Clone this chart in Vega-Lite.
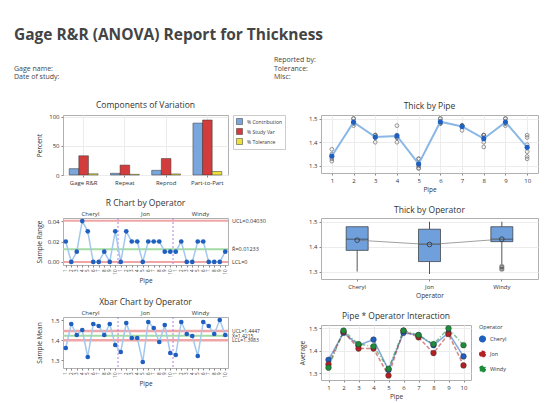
{
  "$schema": "https://vega.github.io/schema/vega-lite/v6.json",
  "background": "white",
  "padding": {"left": 14, "top": 27, "right": 4, "bottom": 2},
  "title": {"text": "Gage R&R (ANOVA) Report for Thickness", "anchor": "start", "fontSize": 15.5, "fontWeight": "bold", "color": "#444", "font": "Open Sans", "offset": 13},
  "config": {
    "font": "Open Sans",
    "view": {"stroke": "#b0b0b0", "strokeWidth": 1},
    "title": {"fontSize": 8.5, "fontWeight": "normal", "color": "#333", "offset": 4},
    "axis": {"labelFontSize": 6, "titleFontSize": 6.5, "titleFontWeight": "normal", "labelColor": "#333", "titleColor": "#333", "domain": false, "tickColor": "#888", "tickSize": 2, "gridColor": "#ececec", "labelPadding": 2, "titlePadding": 3, "labelOverlap": false, "labelSeparation": 0},
    "legend": {"labelFontSize": 5.5, "titleFontSize": 5.5, "titleFontWeight": "normal", "labelColor": "#333", "titleColor": "#333"}
  },
  "resolve": {"scale": {"color": "independent", "strokeDash": "independent"}, "legend": {"color": "independent"}},
  "datasets": {
    "header": [
      {"col": 1, "row": 0, "label": "Reported by:"},
      {"col": 0, "row": 1, "label": "Gage name:"},
      {"col": 1, "row": 1, "label": "Tolerance:"},
      {"col": 0, "row": 2, "label": "Date of study:"},
      {"col": 1, "row": 2, "label": "Misc:"}
    ],
    "cov": [
      {"component": "Gage R&R", "measure": "% Contribution", "value": 10.9},
      {"component": "Gage R&R", "measure": "% Study Var", "value": 33.0},
      {"component": "Gage R&R", "measure": "% Tolerance", "value": 2.1},
      {"component": "Repeat", "measure": "% Contribution", "value": 2.9},
      {"component": "Repeat", "measure": "% Study Var", "value": 17.0},
      {"component": "Repeat", "measure": "% Tolerance", "value": 1.1},
      {"component": "Reprod", "measure": "% Contribution", "value": 8.0},
      {"component": "Reprod", "measure": "% Study Var", "value": 28.3},
      {"component": "Reprod", "measure": "% Tolerance", "value": 1.8},
      {"component": "Part-to-Part", "measure": "% Contribution", "value": 89.1},
      {"component": "Part-to-Part", "measure": "% Study Var", "value": 94.4},
      {"component": "Part-to-Part", "measure": "% Tolerance", "value": 6.0}
    ],
    "raw": [
      {"op": "Cheryl", "pipe": 1, "thick": 1.35}, {"op": "Cheryl", "pipe": 1, "thick": 1.37},
      {"op": "Cheryl", "pipe": 2, "thick": 1.48}, {"op": "Cheryl", "pipe": 2, "thick": 1.48},
      {"op": "Cheryl", "pipe": 3, "thick": 1.42}, {"op": "Cheryl", "pipe": 3, "thick": 1.43},
      {"op": "Cheryl", "pipe": 4, "thick": 1.43}, {"op": "Cheryl", "pipe": 4, "thick": 1.47},
      {"op": "Cheryl", "pipe": 5, "thick": 1.30}, {"op": "Cheryl", "pipe": 5, "thick": 1.33},
      {"op": "Cheryl", "pipe": 6, "thick": 1.48}, {"op": "Cheryl", "pipe": 6, "thick": 1.48},
      {"op": "Cheryl", "pipe": 7, "thick": 1.47}, {"op": "Cheryl", "pipe": 7, "thick": 1.47},
      {"op": "Cheryl", "pipe": 8, "thick": 1.42}, {"op": "Cheryl", "pipe": 8, "thick": 1.43},
      {"op": "Cheryl", "pipe": 9, "thick": 1.48}, {"op": "Cheryl", "pipe": 9, "thick": 1.48},
      {"op": "Cheryl", "pipe": 10, "thick": 1.36}, {"op": "Cheryl", "pipe": 10, "thick": 1.39},
      {"op": "Jon", "pipe": 1, "thick": 1.34}, {"op": "Jon", "pipe": 1, "thick": 1.34},
      {"op": "Jon", "pipe": 2, "thick": 1.47}, {"op": "Jon", "pipe": 2, "thick": 1.50},
      {"op": "Jon", "pipe": 3, "thick": 1.40}, {"op": "Jon", "pipe": 3, "thick": 1.42},
      {"op": "Jon", "pipe": 4, "thick": 1.40}, {"op": "Jon", "pipe": 4, "thick": 1.42},
      {"op": "Jon", "pipe": 5, "thick": 1.29}, {"op": "Jon", "pipe": 5, "thick": 1.29},
      {"op": "Jon", "pipe": 6, "thick": 1.48}, {"op": "Jon", "pipe": 6, "thick": 1.50},
      {"op": "Jon", "pipe": 7, "thick": 1.45}, {"op": "Jon", "pipe": 7, "thick": 1.47},
      {"op": "Jon", "pipe": 8, "thick": 1.38}, {"op": "Jon", "pipe": 8, "thick": 1.40},
      {"op": "Jon", "pipe": 9, "thick": 1.47}, {"op": "Jon", "pipe": 9, "thick": 1.48},
      {"op": "Jon", "pipe": 10, "thick": 1.33}, {"op": "Jon", "pipe": 10, "thick": 1.34},
      {"op": "Windy", "pipe": 1, "thick": 1.32}, {"op": "Windy", "pipe": 1, "thick": 1.33},
      {"op": "Windy", "pipe": 2, "thick": 1.48}, {"op": "Windy", "pipe": 2, "thick": 1.50},
      {"op": "Windy", "pipe": 3, "thick": 1.43}, {"op": "Windy", "pipe": 3, "thick": 1.43},
      {"op": "Windy", "pipe": 4, "thick": 1.42}, {"op": "Windy", "pipe": 4, "thick": 1.42},
      {"op": "Windy", "pipe": 5, "thick": 1.31}, {"op": "Windy", "pipe": 5, "thick": 1.33},
      {"op": "Windy", "pipe": 6, "thick": 1.48}, {"op": "Windy", "pipe": 6, "thick": 1.50},
      {"op": "Windy", "pipe": 7, "thick": 1.47}, {"op": "Windy", "pipe": 7, "thick": 1.47},
      {"op": "Windy", "pipe": 8, "thick": 1.43}, {"op": "Windy", "pipe": 8, "thick": 1.43},
      {"op": "Windy", "pipe": 9, "thick": 1.50}, {"op": "Windy", "pipe": 9, "thick": 1.50},
      {"op": "Windy", "pipe": 10, "thick": 1.42}, {"op": "Windy", "pipe": 10, "thick": 1.43}
    ],
    "sub": [
      {"idx": 1, "op": "Cheryl", "pipe": 1, "xbar": 1.36, "range": 0.02},
      {"idx": 2, "op": "Cheryl", "pipe": 2, "xbar": 1.48, "range": 0},
      {"idx": 3, "op": "Cheryl", "pipe": 3, "xbar": 1.425, "range": 0.01},
      {"idx": 4, "op": "Cheryl", "pipe": 4, "xbar": 1.45, "range": 0.04},
      {"idx": 5, "op": "Cheryl", "pipe": 5, "xbar": 1.315, "range": 0.03},
      {"idx": 6, "op": "Cheryl", "pipe": 6, "xbar": 1.48, "range": 0},
      {"idx": 7, "op": "Cheryl", "pipe": 7, "xbar": 1.47, "range": 0},
      {"idx": 8, "op": "Cheryl", "pipe": 8, "xbar": 1.425, "range": 0.01},
      {"idx": 9, "op": "Cheryl", "pipe": 9, "xbar": 1.48, "range": 0},
      {"idx": 10, "op": "Cheryl", "pipe": 10, "xbar": 1.375, "range": 0.03},
      {"idx": 11, "op": "Jon", "pipe": 1, "xbar": 1.34, "range": 0},
      {"idx": 12, "op": "Jon", "pipe": 2, "xbar": 1.485, "range": 0.03},
      {"idx": 13, "op": "Jon", "pipe": 3, "xbar": 1.41, "range": 0.02},
      {"idx": 14, "op": "Jon", "pipe": 4, "xbar": 1.41, "range": 0.02},
      {"idx": 15, "op": "Jon", "pipe": 5, "xbar": 1.29, "range": 0},
      {"idx": 16, "op": "Jon", "pipe": 6, "xbar": 1.49, "range": 0.02},
      {"idx": 17, "op": "Jon", "pipe": 7, "xbar": 1.46, "range": 0.02},
      {"idx": 18, "op": "Jon", "pipe": 8, "xbar": 1.39, "range": 0.02},
      {"idx": 19, "op": "Jon", "pipe": 9, "xbar": 1.475, "range": 0.01},
      {"idx": 20, "op": "Jon", "pipe": 10, "xbar": 1.335, "range": 0.01},
      {"idx": 21, "op": "Windy", "pipe": 1, "xbar": 1.325, "range": 0.01},
      {"idx": 22, "op": "Windy", "pipe": 2, "xbar": 1.49, "range": 0.02},
      {"idx": 23, "op": "Windy", "pipe": 3, "xbar": 1.43, "range": 0},
      {"idx": 24, "op": "Windy", "pipe": 4, "xbar": 1.42, "range": 0},
      {"idx": 25, "op": "Windy", "pipe": 5, "xbar": 1.32, "range": 0.02},
      {"idx": 26, "op": "Windy", "pipe": 6, "xbar": 1.49, "range": 0.02},
      {"idx": 27, "op": "Windy", "pipe": 7, "xbar": 1.47, "range": 0},
      {"idx": 28, "op": "Windy", "pipe": 8, "xbar": 1.43, "range": 0},
      {"idx": 29, "op": "Windy", "pipe": 9, "xbar": 1.5, "range": 0},
      {"idx": 30, "op": "Windy", "pipe": 10, "xbar": 1.425, "range": 0.01}
    ],
    "rlim": [
      {"value": 0.0403, "kind": "limit", "label": "UCL=0.04030"},
      {"value": 0.01233, "kind": "center", "label": "R̄=0.01233"},
      {"value": 0, "kind": "limit", "label": "LCL=0"}
    ],
    "xlim": [
      {"value": 1.4447, "kind": "limit", "label": "UCL=1.4447"},
      {"value": 1.4215, "kind": "center", "label": "X̄=1.4215"},
      {"value": 1.3983, "kind": "limit", "label": "LCL=1.3983"}
    ],
    "sep": [{"idx": 10.5}, {"idx": 20.5}]
  },
  "vconcat": [
    {
      "width": 520, "height": 17,
      "data": {"name": "header"},
      "view": {"stroke": null},
      "mark": {"type": "text", "align": "left", "baseline": "middle", "fontSize": 7, "color": "#444"},
      "encoding": {
        "x": {"field": "col", "type": "quantitative", "scale": {"domain": [0, 2]}, "axis": null},
        "y": {"field": "row", "type": "quantitative", "scale": {"domain": [0, 2], "reverse": true}, "axis": null},
        "text": {"field": "label"}
      }
    },
    {
      "spacing": 0,
      "resolve": {"scale": {"color": "independent", "strokeDash": "independent"}, "legend": {"color": "independent"}},
      "hconcat": [
        {"width": 21, "height": 10, "data": {"values": []}, "view": {"stroke": null}, "mark": "point"},
        {
          "spacing": 13,
          "resolve": {"scale": {"color": "independent", "strokeDash": "independent"}, "legend": {"color": "independent"}},
          "hconcat": [
            {
              "spacing": 12,
              "resolve": {"scale": {"color": "independent"}, "legend": {"color": "independent"}},
              "vconcat": [
                {
                  "title": "Components of Variation",
                  "width": 165, "height": 60,
                  "data": {"name": "cov"},
                  "mark": {"type": "bar", "stroke": "#333", "strokeWidth": 0.5},
                  "encoding": {
                    "x": {"field": "component", "type": "nominal", "sort": ["Gage R&R", "Repeat", "Reprod", "Part-to-Part"], "title": null, "scale": {"paddingInner": 0.3, "paddingOuter": 0.15}, "axis": {"labelAngle": 0, "grid": true, "labelFontSize": 6, "labelOverlap": false}},
                    "xOffset": {"field": "measure", "type": "nominal", "sort": ["% Contribution", "% Study Var", "% Tolerance"]},
                    "y": {"field": "value", "type": "quantitative", "scale": {"domain": [0, 103], "nice": false}, "axis": {"values": [0, 50, 100], "tickCount": 40, "format": "d", "title": "Percent", "minExtent": 18, "grid": true, "labelOverlap": false}},
                    "color": {"field": "measure", "type": "nominal", "sort": ["% Contribution", "% Study Var", "% Tolerance"], "scale": {"domain": ["% Contribution", "% Study Var", "% Tolerance"], "range": ["#79a6dc", "#d23c3c", "#ece03a"]}, "legend": {"title": null, "orient": "right", "offset": 5, "symbolType": "square", "symbolSize": 36, "symbolStrokeColor": "#333", "symbolStrokeWidth": 0.5, "rowPadding": 1, "padding": 3, "labelFontSize": 5, "strokeColor": "#ccc"}}
                  }
                },
                {
                  "title": "R Chart by Operator",
                  "width": 165, "height": 47,
                  "layer": [
                    {
                      "data": {"name": "rlim"},
                      "transform": [{"filter": "datum.kind == 'limit'"}],
                      "mark": {"type": "rule", "strokeWidth": 2, "color": "#f0a6a6"},
                      "encoding": {
                        "y": {"field": "value", "type": "quantitative", "scale": {"domain": [-0.003, 0.043], "nice": false, "zero": false}, "axis": {"values": [0, 0.02, 0.04], "tickCount": 40, "format": ".2f", "title": "Sample Range", "minExtent": 18, "grid": false, "labelOverlap": false}}
                      }
                    },
                    {
                      "data": {"name": "rlim"},
                      "transform": [{"filter": "datum.kind == 'center'"}],
                      "mark": {"type": "rule", "strokeWidth": 2, "color": "#a4dba4"},
                      "encoding": {
                        "y": {"field": "value", "type": "quantitative"}
                      }
                    },
                    {
                      "data": {"name": "sep"},
                      "mark": {"type": "rule", "color": "#b07ee6", "strokeDash": [2, 2], "strokeWidth": 1},
                      "encoding": {
                        "x": {"field": "idx", "type": "quantitative", "scale": {"domain": [0.5, 30.5], "nice": false, "zero": false}, "axis": {"values": [1,2,3,4,5,6,7,8,9,10,11,12,13,14,15,16,17,18,19,20,21,22,23,24,25,26,27,28,29,30], "tickCount": 40, "labelExpr": "(datum.value - 1) % 10 + 1", "labelAngle": -90, "labelFontSize": 4.5, "labelOverlap": false, "grid": false, "title": "Pipe"}}
                      }
                    },
                    {
                      "data": {"name": "sub"},
                      "mark": {"type": "line", "color": "#a3c8ee", "strokeWidth": 1.5},
                      "encoding": {
                        "x": {"field": "idx", "type": "quantitative"},
                        "y": {"field": "range", "type": "quantitative"}
                      }
                    },
                    {
                      "data": {"name": "sub"},
                      "mark": {"type": "point", "filled": true, "color": "#1f5fbf", "size": 22, "opacity": 1},
                      "encoding": {
                        "x": {"field": "idx", "type": "quantitative"},
                        "y": {"field": "range", "type": "quantitative"}
                      }
                    },
                    {
                      "data": {"name": "rlim"},
                      "mark": {"type": "text", "align": "left", "dx": 4, "fontSize": 5.5, "color": "#333"},
                      "encoding": {
                        "x": {"datum": 30.5, "type": "quantitative"},
                        "y": {"field": "value", "type": "quantitative"},
                        "text": {"field": "label"}
                      }
                    },
                    {
                      "data": {"name": "sub"},
                      "mark": {"type": "text", "baseline": "bottom", "dy": -1, "fontSize": 6, "color": "#333"},
                      "encoding": {
                        "x": {"aggregate": "mean", "field": "idx", "type": "quantitative"},
                        "y": {"datum": 0.043, "type": "quantitative"},
                        "text": {"field": "op"}
                      }
                    }
                  ]
                },
                {
                  "title": "Xbar Chart by Operator",
                  "width": 165, "height": 51,
                  "layer": [
                    {
                      "data": {"name": "xlim"},
                      "transform": [{"filter": "datum.kind == 'limit'"}],
                      "mark": {"type": "rule", "strokeWidth": 2.5, "color": "#f0a6a6"},
                      "encoding": {
                        "y": {"field": "value", "type": "quantitative", "scale": {"domain": [1.26, 1.515], "nice": false, "zero": false}, "axis": {"values": [1.3, 1.4, 1.5], "tickCount": 40, "format": ".1f", "title": "Sample Mean", "minExtent": 18, "grid": false, "labelOverlap": false}}
                      }
                    },
                    {
                      "data": {"name": "xlim"},
                      "transform": [{"filter": "datum.kind == 'center'"}],
                      "mark": {"type": "rule", "strokeWidth": 2, "color": "#a4dba4"},
                      "encoding": {
                        "y": {"field": "value", "type": "quantitative"}
                      }
                    },
                    {
                      "data": {"name": "sep"},
                      "mark": {"type": "rule", "color": "#b07ee6", "strokeDash": [2, 2], "strokeWidth": 1},
                      "encoding": {
                        "x": {"field": "idx", "type": "quantitative", "scale": {"domain": [0.5, 30.5], "nice": false, "zero": false}, "axis": {"values": [1,2,3,4,5,6,7,8,9,10,11,12,13,14,15,16,17,18,19,20,21,22,23,24,25,26,27,28,29,30], "tickCount": 40, "labelExpr": "(datum.value - 1) % 10 + 1", "labelAngle": -90, "labelFontSize": 4.5, "labelOverlap": false, "grid": false, "title": "Pipe"}}
                      }
                    },
                    {
                      "data": {"name": "sub"},
                      "mark": {"type": "line", "color": "#a3c8ee", "strokeWidth": 1.5},
                      "encoding": {
                        "x": {"field": "idx", "type": "quantitative"},
                        "y": {"field": "xbar", "type": "quantitative"}
                      }
                    },
                    {
                      "data": {"name": "sub"},
                      "mark": {"type": "point", "filled": true, "color": "#1f5fbf", "size": 22, "opacity": 1},
                      "encoding": {
                        "x": {"field": "idx", "type": "quantitative"},
                        "y": {"field": "xbar", "type": "quantitative"}
                      }
                    },
                    {
                      "data": {"name": "xlim"},
                      "mark": {"type": "text", "align": "left", "dx": 4, "fontSize": 5, "color": "#333"},
                      "encoding": {
                        "x": {"datum": 30.5, "type": "quantitative"},
                        "y": {"field": "value", "type": "quantitative"},
                        "text": {"field": "label"}
                      }
                    },
                    {
                      "data": {"name": "sub"},
                      "mark": {"type": "text", "baseline": "bottom", "dy": -1, "fontSize": 6, "color": "#333"},
                      "encoding": {
                        "x": {"aggregate": "mean", "field": "idx", "type": "quantitative"},
                        "y": {"datum": 1.515, "type": "quantitative"},
                        "text": {"field": "op"}
                      }
                    }
                  ]
                }
              ]
            },
            {
              "spacing": 12,
              "resolve": {"scale": {"color": "independent", "strokeDash": "independent"}, "legend": {"color": "independent"}},
              "vconcat": [
                {
                  "title": "Thick by Pipe",
                  "width": 217, "height": 58,
                  "data": {"name": "raw"},
                  "layer": [
                    {
                      "mark": {"type": "point", "color": "#666", "size": 14, "strokeWidth": 1},
                      "encoding": {
                        "x": {"field": "pipe", "type": "quantitative", "scale": {"domain": [0.5, 10.5], "nice": false, "zero": false}, "axis": {"values": [1,2,3,4,5,6,7,8,9,10], "tickCount": 40, "format": "d", "grid": true, "title": "Pipe", "labelOverlap": false}},
                        "y": {"field": "thick", "type": "quantitative", "scale": {"domain": [1.27, 1.515], "nice": false, "zero": false}, "axis": {"values": [1.3, 1.4, 1.5], "tickCount": 40, "format": ".1f", "grid": true, "title": null, "labelOverlap": false}}
                      }
                    },
                    {
                      "mark": {"type": "line", "color": "#8ab8e6", "strokeWidth": 2},
                      "encoding": {
                        "x": {"field": "pipe", "type": "quantitative"},
                        "y": {"aggregate": "mean", "field": "thick", "type": "quantitative"}
                      }
                    },
                    {
                      "mark": {"type": "point", "filled": true, "color": "#1f5fbf", "size": 26, "opacity": 1},
                      "encoding": {
                        "x": {"field": "pipe", "type": "quantitative"},
                        "y": {"aggregate": "mean", "field": "thick", "type": "quantitative"}
                      }
                    }
                  ]
                },
                {
                  "title": "Thick by Operator",
                  "width": 217, "height": 61,
                  "data": {"name": "raw"},
                  "layer": [
                    {
                      "mark": {"type": "boxplot", "extent": 1.5, "size": 22, "color": "#6fa0dc", "box": {"stroke": "#333", "strokeWidth": 0.7}, "median": {"color": "#333"}, "rule": {"color": "#555"}, "ticks": false, "outliers": {"color": "#555", "size": 10}},
                      "encoding": {
                        "x": {"field": "op", "type": "nominal", "axis": {"labelAngle": 0, "title": "Operator", "grid": false}},
                        "y": {"field": "thick", "type": "quantitative", "scale": {"domain": [1.27, 1.515], "nice": false, "zero": false}, "axis": {"values": [1.3, 1.4, 1.5], "tickCount": 40, "format": ".1f", "grid": true, "title": null, "labelOverlap": false}}
                      }
                    },
                    {
                      "mark": {"type": "line", "color": "#777", "strokeWidth": 0.7},
                      "encoding": {
                        "x": {"field": "op", "type": "nominal"},
                        "y": {"aggregate": "mean", "field": "thick", "type": "quantitative"}
                      }
                    },
                    {
                      "mark": {"type": "point", "color": "#333", "size": 22, "strokeWidth": 0.8},
                      "encoding": {
                        "x": {"field": "op", "type": "nominal"},
                        "y": {"aggregate": "mean", "field": "thick", "type": "quantitative"}
                      }
                    }
                  ]
                },
                {
                  "title": "Pipe * Operator Interaction",
                  "width": 150, "height": 55,
                  "data": {"name": "sub"},
                  "layer": [
                    {
                      "mark": {"type": "line", "strokeWidth": 1.5, "opacity": 0.55},
                      "encoding": {
                        "x": {"field": "pipe", "type": "quantitative", "scale": {"domain": [0.5, 10.5], "nice": false, "zero": false}, "axis": {"values": [1,2,3,4,5,6,7,8,9,10], "tickCount": 40, "format": "d", "grid": true, "title": "Pipe", "labelOverlap": false}},
                        "y": {"field": "xbar", "type": "quantitative", "scale": {"domain": [1.27, 1.515], "nice": false, "zero": false}, "axis": {"values": [1.3, 1.4, 1.5], "tickCount": 40, "format": ".1f", "grid": true, "title": "Average", "labelOverlap": false}},
                        "color": {"field": "op", "type": "nominal", "scale": {"domain": ["Cheryl", "Jon", "Windy"], "range": ["#1f5fbf", "#b22222", "#1e8c3a"]}, "legend": {"title": "Operator", "orient": "right", "offset": 8, "symbolType": "circle", "symbolSize": 30, "symbolOpacity": 1}},
                        "strokeDash": {"field": "op", "type": "nominal", "scale": {"domain": ["Cheryl", "Jon", "Windy"], "range": [[1, 0], [4, 2], [4, 2, 1, 2]]}, "legend": null}
                      }
                    },
                    {
                      "mark": {"type": "point", "filled": true, "size": 32, "opacity": 1, "stroke": "#222", "strokeWidth": 0.4},
                      "encoding": {
                        "x": {"field": "pipe", "type": "quantitative"},
                        "y": {"field": "xbar", "type": "quantitative"},
                        "color": {"field": "op", "type": "nominal"}
                      }
                    }
                  ]
                }
              ]
            }
          ]
        }
      ]
    }
  ]
}
